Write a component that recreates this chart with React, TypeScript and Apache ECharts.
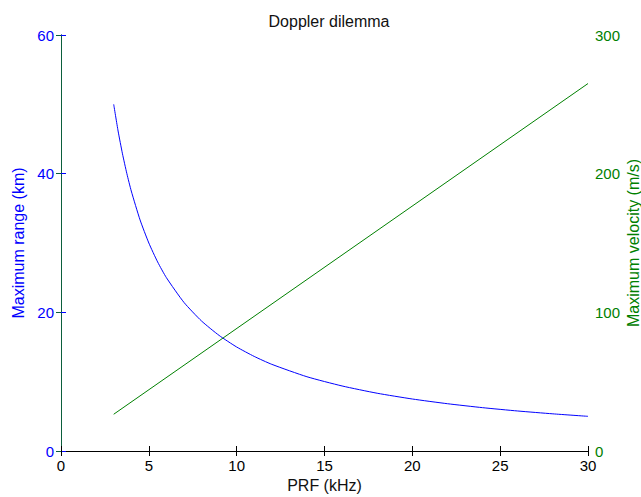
import React, { useEffect, useRef } from "react";
import * as echarts from "echarts";

const titleText = "Doppler dilemma";
const xName = "PRF (kHz)";
const leftName = "Maximum range (km)";
const rightName = "Maximum velocity (m/s)";

const prf = [3, 3.25, 3.5, 3.75, 4, 4.5, 5, 5.5, 6, 7, 8, 9, 10, 11, 12, 14, 16, 18, 20, 22, 24, 26, 28, 30];
const maxRange = [50, 46.15, 42.86, 40, 37.5, 33.33, 30, 27.27, 25, 21.43, 18.75, 16.67, 15, 13.64, 12.5, 10.71, 9.38, 8.33, 7.5, 6.82, 6.25, 5.77, 5.36, 5];
const velPrf = [3, 30];
const maxVelocity = [26.5, 265];

const FONT = "'Liberation Sans', Arial, Helvetica, sans-serif";

export default function App() {
  const ref = useRef<HTMLDivElement>(null);
  useEffect(() => {
    const chart = echarts.init(ref.current!, null, { renderer: "svg" });
    chart.setOption({
      animation: false,
      backgroundColor: "#fff",
      title: {
        text: titleText,
        left: 324,
        top: 8,
        textAlign: "center",
        textStyle: { fontFamily: FONT, fontSize: 16, fontWeight: "normal", color: "#111" },
      },
      graphic: [
        {
          type: "text",
          x: 633,
          y: 243,
          rotation: Math.PI / 2,
          style: {
            text: rightName,
            fontFamily: FONT,
            fontSize: 16,
            fill: "#008000",
            align: "center",
            verticalAlign: "middle",
          },
        },
      ],
      grid: { left: 61, right: 53, top: 35, bottom: 46, containLabel: false, outerBoundsMode: "none" },
      xAxis: [
        {
          type: "value",
          min: 0,
          max: 30,
          interval: 5,
          name: xName,
          nameLocation: "middle",
          nameGap: 26,
          nameTextStyle: { fontFamily: FONT, fontSize: 16, color: "#111" },
          axisLine: { lineStyle: { color: "#000", width: 1 } },
          axisTick: { inside: true, length: 5, lineStyle: { color: "#000" } },
          axisLabel: { fontFamily: FONT, fontSize: 15, color: "#000", margin: 7 },
          splitLine: { show: false },
        },
        {
          type: "value",
          position: "top",
          min: 0,
          max: 30,
          interval: 5,
          axisLine: { lineStyle: { color: "#000", width: 1 } },
          axisTick: { inside: true, length: 5, lineStyle: { color: "#000" } },
          axisLabel: { show: false },
          splitLine: { show: false },
        },
      ],
      yAxis: [
        {
          type: "value",
          min: 0,
          max: 60,
          interval: 20,
          position: "left",
          name: leftName,
          nameLocation: "middle",
          nameGap: 34,
          nameTextStyle: { fontFamily: FONT, fontSize: 16, color: "#0000ff" },
          axisLine: { show: true, lineStyle: { color: "#0000ff", width: 1 } },
          axisTick: { show: true, inside: true, length: 5, lineStyle: { color: "#0000ff" } },
          axisLabel: { fontFamily: FONT, fontSize: 15, color: "#0000ff", margin: 7 },
          splitLine: { show: false },
        },
        {
          type: "value",
          min: 0,
          max: 300,
          interval: 100,
          position: "right",
          axisLine: { show: true, lineStyle: { color: "#0b5e3c", width: 1 } },
          axisTick: { show: true, inside: true, length: 5, lineStyle: { color: "#0b5e3c" } },
          axisLabel: { fontFamily: FONT, fontSize: 15, color: "#008000", margin: 7 },
          splitLine: { show: false },
        },
      ],
      series: [
        {
          type: "line",
          xAxisIndex: 0,
          yAxisIndex: 0,
          data: prf.map((p, i) => [p, maxRange[i]]),
          smooth: 0.2,
          showSymbol: false,
          lineStyle: { color: "#0000ff", width: 1 },
        },
        {
          type: "line",
          xAxisIndex: 0,
          yAxisIndex: 1,
          data: velPrf.map((p, i) => [p, maxVelocity[i]]),
          showSymbol: false,
          lineStyle: { color: "#008000", width: 1 },
        },
      ],
    });
    return () => chart.dispose();
  }, []);
  return <div ref={ref} style={{ width: 641, height: 497, position: "absolute", left: 0, top: 0 }} />;
}
